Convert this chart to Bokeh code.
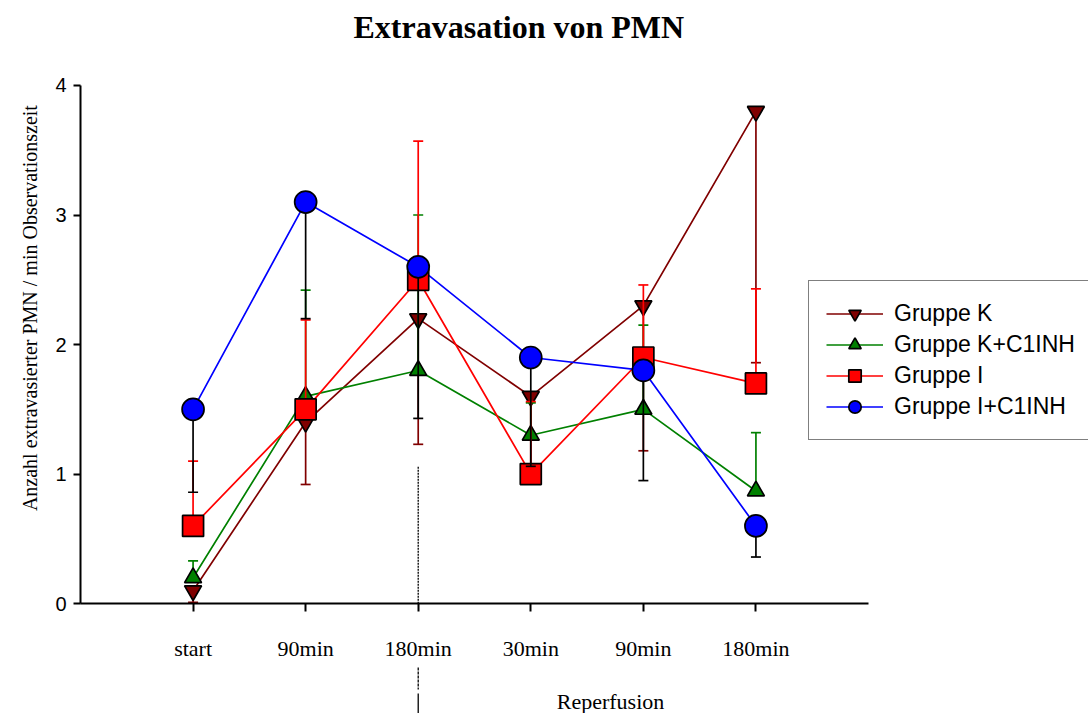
import math
from bokeh.plotting import figure
from bokeh.models import ColumnDataSource, Legend, LegendItem, Label, FixedTicker, Range1d
from bokeh.embed import file_html
from bokeh.resources import INLINE

# ---------------- data ----------------
categories = ["start", "90min", "180min", "30min", "90min", "180min"]
phase_label = "Reperfusion"
groups = ["Gruppe K", "Gruppe K+C1INH", "Gruppe I", "Gruppe I+C1INH"]

k_mean = [0.1, 1.4, 2.2, 1.6, 2.3, 3.8]
k_err = [0.09, 0.48, 0.97, 0.6, 1.12, 1.94]          # drawn downward

kc_mean = [0.2, 1.6, 1.8, 1.3, 1.5, 0.87]
kc_err = [0.13, 0.82, 1.2, 0.25, 0.65, 0.45]         # drawn upward

i_mean = [0.6, 1.5, 2.5, 1.0, 1.9, 1.7]
i_err = [0.5, 0.69, 1.07, 0.56, 0.56, 0.73]          # drawn upward

ic_mean = [1.5, 3.1, 2.6, 1.9, 1.8, 0.6]
ic_err = [0.64, 0.9, 1.17, 0.84, 0.85, 0.24]         # drawn downward

y_ticks = [0, 1, 2, 3, 4]
separator_after = 2   # index of the last ischemia category (180min)

# ---------------- layout (pixels) ----------------
W, H = 1088, 713
TOP = 49                      # frame top (title above)
AX_L, AX_R = 80, 868          # x axis line extent
AX_T, AX_B = 84, 603          # y axis line extent
X_MIN, X_MAX = -1, 6          # axis bounds in data units
Y_MIN, Y_MAX = 0, 4
xu = (AX_R - AX_L) / (X_MAX - X_MIN)
yu = (AX_B - AX_T) / (Y_MAX - Y_MIN)
x_start = X_MIN - AX_L / xu
x_end = x_start + W / xu
y_start = Y_MIN - (H - AX_B) / yu
y_end = Y_MAX + (AX_T - TOP) / yu

def px_to_y(py):
    return Y_MIN + (AX_B - py) / yu

def px_to_x(px):
    return X_MIN + (px - AX_L) / xu

SERIF = "Liberation Serif"
SANS = "Liberation Sans"
styles = [
    dict(mean=k_mean, err=k_err, sign=-1, color="#800000", ebar="#800000", marker="inverted_triangle", size=17),
    dict(mean=kc_mean, err=kc_err, sign=1, color="#008000", ebar="#008000", marker="triangle", size=17),
    dict(mean=i_mean, err=i_err, sign=1, color="#FF0000", ebar="#FF0000", marker="square", size=21),
    dict(mean=ic_mean, err=ic_err, sign=-1, color="#0000FF", ebar="#000000", marker="circle", size=22),
]

x_pos = list(range(len(categories)))

p = figure(width=W, height=H,
           x_range=Range1d(x_start, x_end), y_range=Range1d(y_start, y_end),
           output_backend="svg", toolbar_location=None,
           min_border_left=0, min_border_right=0,
           min_border_top=TOP, min_border_bottom=0,
           title="Extravasation von PMN")
p.grid.visible = False
p.outline_line_color = None
p.background_fill_color = "white"
p.border_fill_color = "white"

p.title.text_font = SERIF
p.title.text_font_size = "32px"
p.title.text_font_style = "bold"
p.title.text_color = "black"
p.title.align = "left"
p.title.offset = 353
p.title.standoff = 12

# axes (drawn at fixed positions inside the frame)
p.yaxis.fixed_location = X_MIN
p.yaxis.bounds = (Y_MIN, Y_MAX)
p.yaxis.ticker = FixedTicker(ticks=y_ticks)
p.yaxis.major_label_text_font = SANS
p.yaxis.major_label_text_font_size = "20px"
p.yaxis.major_label_text_color = "black"
p.yaxis.major_tick_in = 0
p.yaxis.major_tick_out = 7
p.yaxis.major_label_standoff = 7
p.yaxis.minor_tick_line_color = None

p.xaxis.fixed_location = Y_MIN
p.xaxis.bounds = (X_MIN, X_MAX)
p.xaxis.ticker = FixedTicker(ticks=x_pos)
p.xaxis.major_label_overrides = {i: c for i, c in enumerate(categories)}
p.xaxis.major_label_text_font = SERIF
p.xaxis.major_label_text_font_size = "22px"
p.xaxis.major_label_text_color = "black"
p.xaxis.major_tick_in = 0
p.xaxis.major_tick_out = 8
p.xaxis.major_label_standoff = 24
p.xaxis.minor_tick_line_color = None

for ax in (p.xaxis, p.yaxis):
    ax.axis_line_width = 2
    ax.axis_line_color = "black"
    ax.major_tick_line_width = 2
    ax.major_tick_line_color = "black"

# connecting lines
line_renderers = []
for st in styles:
    r = p.line(x_pos, st["mean"], line_color=st["color"], line_width=1.7)
    line_renderers.append(r)

# error bars and markers, group by group
marker_renderers = []
for st in styles:
    ends = [m + st["sign"] * e for m, e in zip(st["mean"], st["err"])]
    src = ColumnDataSource(dict(x=x_pos, y=st["mean"], end=ends))
    p.segment(x0="x", y0="y", x1="x", y1="end", source=src,
              line_color=st["ebar"], line_width=1.7)
    p.scatter(x="x", y="end", source=src, marker="dash", size=10,
              line_color=st["ebar"], line_width=1.7)
    mr = p.scatter(x="x", y="y", source=src, marker=st["marker"], size=st["size"],
                   fill_color=st["color"], line_color="black", line_width=1.7)
    marker_renderers.append(mr)

# separator between ischemia and reperfusion
p.segment(x0=[separator_after], y0=[Y_MIN], x1=[separator_after], y1=[px_to_y(466)],
          line_color="black", line_width=1.3, line_dash="2 1")
p.segment(x0=[separator_after], y0=[px_to_y(667)], x1=[separator_after], y1=[px_to_y(689)],
          line_color="black", line_width=1.3, line_dash="3 1")
p.segment(x0=[separator_after], y0=[px_to_y(693)], x1=[separator_after], y1=[px_to_y(720)],
          line_color="black", line_width=1.3)

# texts
p.add_layout(Label(x=px_to_x(610), y=px_to_y(701), text=phase_label, text_font=SERIF,
                   text_font_size="22px", text_align="center", text_baseline="middle",
                   text_color="black"))
p.add_layout(Label(x=px_to_x(29), y=px_to_y(307),
                   text="Anzahl extravasierter PMN / min Observationszeit",
                   angle=math.pi / 2, text_font=SERIF, text_font_size="20px",
                   text_align="center", text_baseline="middle", text_color="black"))

# legend
items = [LegendItem(label=g, renderers=[lr, mr])
         for g, lr, mr in zip(groups, line_renderers, marker_renderers)]
legend = Legend(items=items, location=(808, H - 440),
                glyph_width=57, glyph_height=31, spacing=0, padding=17,
                margin=0, label_standoff=11,
                label_text_font=SANS, label_text_font_size="23px",
                label_text_color="black",
                border_line_color="black", border_line_width=1.6,
                background_fill_color="white", background_fill_alpha=1)
p.add_layout(legend)

open("out.html", "w").write(file_html(p, INLINE))
